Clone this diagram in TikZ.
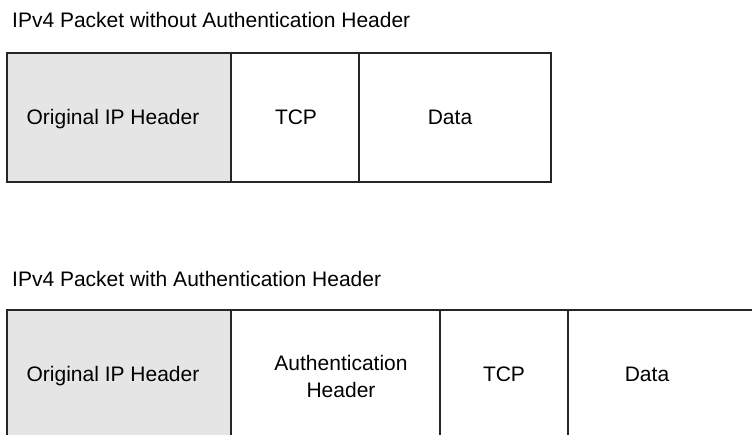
\documentclass[tikz,border=0pt]{standalone}
\usepackage{fontspec}
\setmainfont{Liberation Sans}
\begin{document}
\begin{tikzpicture}[x=1pt,y=-1pt,
  cell/.style={draw=black!85, line width=1.3pt, anchor=north west, inner sep=0pt, outer sep=0pt},
  hdr/.style={cell, fill=black!10},
  lbl/.style={anchor=base, inner sep=0pt, font=\fontsize{21}{27}\selectfont, align=center},
  ttl/.style={anchor=base west, inner sep=0pt, font=\fontsize{21}{24}\selectfont}]
\useasboundingbox (0,0) rectangle (752,434);
\clip (0,0) rectangle (752,434);
% top packet
\node[ttl] (t1) at (12,27) {IPv4 Packet without Authentication Header};
\node[hdr, minimum width=224pt, minimum height=129pt] (a1) at (7,53) {};
\node[cell, minimum width=128pt, minimum height=129pt] (a2) at (a1.north east) {};
\node[cell, minimum width=192pt, minimum height=129pt] (a3) at (a2.north east) {};
\node[lbl] (a1t) at (113,124) {Original IP Header};
\node[lbl] (a2t) at (296,124) {TCP};
\node[lbl] (a3t) at (450,124) {Data};
% bottom packet
\node[ttl] (t2) at (12,286) {IPv4 Packet with Authentication Header};
\node[hdr, minimum width=224pt, minimum height=130pt] (b1) at (7,310) {};
\node[cell, minimum width=209pt, minimum height=130pt] (b2) at (b1.north east) {};
\node[cell, minimum width=128pt, minimum height=130pt] (b3) at (b2.north east) {};
\node[cell, minimum width=200pt, minimum height=130pt] (b4) at (b3.north east) {};
\node[lbl] (b1t) at (113,381) {Original IP Header};
\node[lbl, anchor=center] (b2t) at (341,376) {Authentication\\Header};
\node[lbl] (b3t) at (504,381) {TCP};
\node[lbl] (b4t) at (647,381) {Data};
\end{tikzpicture}
\end{document}
